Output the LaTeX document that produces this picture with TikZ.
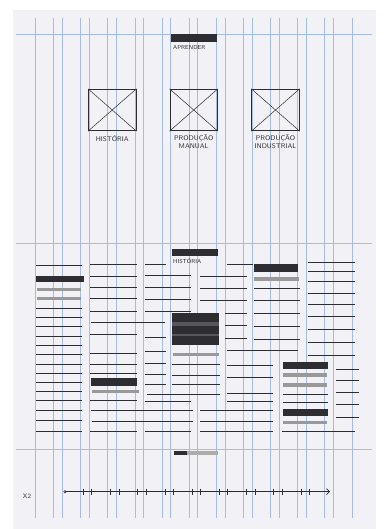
\documentclass[tikz,border=0pt]{standalone}
\usepackage{fontspec}
\usetikzlibrary{positioning,arrows.meta}
\definecolor{paper}{RGB}{241,241,246}
\definecolor{gridblue}{RGB}{165,188,232}
\definecolor{ink}{RGB}{45,45,50}
\begin{document}
\begin{tikzpicture}[
  x=1pt,y=-1pt,
  gridline/.style={gridblue, line width=0.5pt},
  textline/.style={ink, line width=0.95pt},
  greybar/.style={gray!80, line width=3.2pt},
  imgbox/.style={draw=ink, line width=0.9pt, minimum width=47.5pt, minimum height=41.5pt, inner sep=0pt},
  hand/.style={font=\sffamily\fontsize{6.8}{7.6}\selectfont, text=ink, inner sep=0pt, align=center}
]
\useasboundingbox (0,0) rectangle (387,529);
\fill[white] (0,0) rectangle (387,529);
\fill[paper] (13,10) rectangle (376,529);
\foreach \i in {0,...,11} {
  \draw[gridline] ({35+27.12*\i},18) -- ++(0,500);
  \draw[gridline] ({53.5+27.12*\i},18) -- ++(0,500);
}
\foreach \ya in {34,243,449} \draw[gridline] (16,\ya) -- (372,\ya);

\fill[ink] (170.7,34.3) rectangle (217.3,42);
\node[hand, anchor=north west, font=\sffamily\fontsize{5.8}{6.5}\selectfont] (learn) at (173,45) {APRENDER};
\node[imgbox] (img1) at (112.2,110) {};
\node[imgbox] (img2) at (193.7,110) {};
\node[imgbox] (img3) at (275.5,110) {};
\foreach \b in {img1,img2,img3} {
  \draw[ink, line width=0.5pt] (\b.north west) -- (\b.south east);
  \draw[ink, line width=0.5pt] (\b.north east) -- (\b.south west);
}
\node[hand, below=4pt of img1] (hist) {HISTÓRIA};
\node[hand, below=3.5pt of img2] (manual) {PRODUÇÃO\\MANUAL};
\node[hand, below=3.5pt of img3] (indus) {PRODUÇÃO\\INDUSTRIAL};

\fill[ink] (171.7,249.3) rectangle (218,255.5);
\node[hand, anchor=north west, font=\sffamily\fontsize{5.8}{6.5}\selectfont] (histhead) at (173,258) {HISTÓRIA};
\fill[ink] (35.7,275.7) rectangle (84,281.7);
\fill[ink] (91,378.3) rectangle (137.3,385.7);
\fill[ink] (254,264) rectangle (298.3,272.3);
\fill[ink] (283,362) rectangle (328,369);
\fill[ink] (283,409.3) rectangle (328,416);
\fill[ink] (172.3,312.7) rectangle (219,345);
\fill[ink!80] (172.3,322) rectangle (219,326);
\fill[ink!80] (172.3,334) rectangle (219,336);
\foreach \xa/\xb/\ya in {37/81/289.7, 37/81/298.7, 92/139/391.7, 173/219/354.3, 254/299/279,
  283/327/375, 283/327/385, 283/327/422.7}
  \draw[greybar] (\xa,\ya) -- (\xb,\ya);

\foreach \ya in {265,308,317,326,336,345,354,364,373,382.5,391,400.5,410,420.5,431.5}
  \draw[textline] (36,\ya) -- (82,\ya);
\foreach \ya in {264.7,276.3,287.3,298.3,311.7,334.3,353.7,364,373.7,400.7,431.7}
  \draw[textline] (90,\ya) -- (137,\ya);
\foreach \ya in {275.7,287.7,299.3,311.7,401.5,431}
  \draw[textline] (145,\ya) -- (191,\ya);
\foreach \ya in {264.3,337.3,351.7,363.3,374.3,384.3}
  \draw[textline] (145,\ya) -- (165.5,\ya);
\foreach \ya in {276,288,300}
  \draw[textline] (200,\ya) -- (247,\ya);
\foreach \ya in {364,375,384}
  \draw[textline] (172,\ya) -- (220,\ya);
\foreach \ya in {313.3,325.3,338}
  \draw[textline] (225,\ya) -- (247,\ya);
\foreach \ya in {365,377.3,393.3,401.7}
  \draw[textline] (227,\ya) -- (273,\ya);
\foreach \ya in {410,421,431}
  \draw[textline] (200,\ya) -- (273,\ya);
\foreach \ya in {288.3,300,313.3,326,339}
  \draw[textline] (254,\ya) -- (300,\ya);
\foreach \ya in {394,402.7}
  \draw[textline] (283,\ya) -- (328,\ya);
\foreach \ya in {262.7,271.7,281.7,293.3,304,316.7,329.3,342.3,355}
  \draw[textline] (308,\ya) -- (355,\ya);
\foreach \ya in {369.3,380.7,392.7,404.3,417.3}
  \draw[textline] (336,\ya) -- (359,\ya);
\foreach \xa/\xb/\ya in {91/165/322.7, 146.7/220/394, 91/193/410, 92/193/421,
  227/253/264, 227/298/350, 282/355/431}
  \draw[textline] (\xa,\ya) -- (\xb,\ya);

\fill[gray!65] (174,450.7) rectangle (218,454.5);
\fill[ink] (174,450.7) rectangle (187,454.5);
\coordinate (axstart) at (65,491.7);
\coordinate (axend) at (330,491.7);
\draw[textline, line width=0.7pt, -{Straight Barb[length=3pt]}] (axstart) -- (axend);
\draw[ink, line width=0.5pt] (axstart) circle (1.2);
\foreach \i in {0,...,8} {
  \draw[ink, line width=0.55pt] ({83.3+27.2*\i},488.5) -- ++(0,6);
  \draw[ink, line width=0.55pt] ({91.7+27.2*\i},488.5) -- ++(0,6);
}
\node[hand, font=\sffamily\fontsize{6.5}{7}\selectfont] (scale) at (27,496) {X2};
\end{tikzpicture}
\end{document}
